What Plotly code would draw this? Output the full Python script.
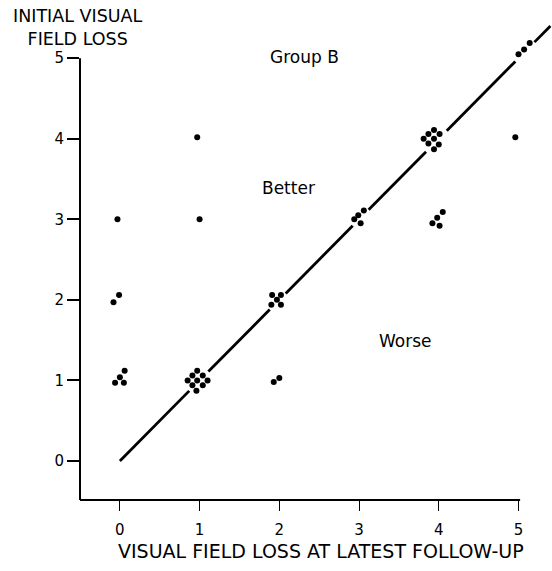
import plotly.graph_objects as go

# Patients: visual field loss at latest follow-up (x) vs initial (y), jittered as drawn
follow_up = [0.97, -0.03, 1.00,
             -0.01, -0.08,
             0.06, 0.00, -0.06, 0.05,
             0.97, 0.91, 1.04, 0.85, 0.97, 1.10, 0.91, 1.04, 0.96,
             1.91, 2.02, 1.97, 1.90, 2.02,
             1.93, 2.00,
             3.06, 2.99, 2.94, 3.02,
             3.94, 3.87, 4.01, 3.81, 3.94, 3.87, 4.00, 3.94,
             4.96,
             4.05, 3.98, 3.92, 4.01,
             5.00, 5.07, 5.14]
initial = [4.02, 3.00, 3.00,
           2.06, 1.97,
           1.12, 1.04, 0.97, 0.97,
           1.12, 1.06, 1.06, 1.00, 1.00, 1.00, 0.94, 0.94, 0.87,
           2.06, 2.06, 2.00, 1.94, 1.94,
           0.98, 1.03,
           3.11, 3.05, 3.00, 2.95,
           4.11, 4.06, 4.06, 4.00, 4.00, 3.94, 3.93, 3.87,
           4.02,
           3.09, 3.02, 2.95, 2.92,
           5.05, 5.11, 5.19]

# Identity line (no change), drawn in pieces broken around the clusters
diag_starts = [0.00, 1.11, 2.08, 3.12, 4.10, 5.20]
diag_ends = [0.87, 1.88, 2.92, 3.84, 4.96, 5.40]

tick_vals = [0, 1, 2, 3, 4, 5]
tick_text = ["0", "1", "2", "3", "4", "5"]

x_range = [-0.5, 5.42]
y_range = [-0.485, 5.45]
x_axis_end = 5.02
y_axis_end = 5.0

FONT = "DejaVu Sans"

diag_x, diag_y = [], []
for s, e in zip(diag_starts, diag_ends):
    diag_x += [s, e, None]
    diag_y += [s, e, None]

fig = go.Figure()
fig.add_trace(go.Scatter(x=diag_x, y=diag_y, mode="lines",
                         line=dict(color="black", width=2.8),
                         hoverinfo="skip", showlegend=False))
fig.add_trace(go.Scatter(x=follow_up, y=initial, mode="markers",
                         marker=dict(color="black", size=6),
                         cliponaxis=False, showlegend=False))

# axis lines (stop at the last tick, as in the original)
fig.add_shape(type="line", xref="x", yref="paper", x0=x_range[0], x1=x_axis_end,
              y0=0, y1=0, line=dict(color="black", width=2))
fig.add_shape(type="line", xref="paper", yref="y", x0=0, x1=0,
              y0=y_range[0], y1=y_axis_end, line=dict(color="black", width=2))

ann_font = dict(family=FONT, size=17, color="black")
fig.add_annotation(x=2.32, y=5.01, text="Group B", showarrow=False, font=ann_font)
fig.add_annotation(x=2.12, y=3.39, text="Better", showarrow=False, font=ann_font)
fig.add_annotation(x=3.58, y=1.49, text="Worse", showarrow=False, font=ann_font)

PH = 478.0  # plot-area height in px
PW = 472.0  # plot-area width in px
fig.add_annotation(xref="paper", yref="paper", x=(78 - 80) / PW, y=(500 - 27) / PH,
                   xanchor="center", yanchor="middle", showarrow=False,
                   text="INITIAL VISUAL<br>FIELD LOSS", align="center",
                   font=dict(family=FONT, size=17.5, color="black"))
fig.add_annotation(xref="paper", yref="paper", x=(321 - 80) / PW, y=-(551 - 500) / PH,
                   xanchor="center", yanchor="middle", showarrow=False,
                   text="VISUAL FIELD LOSS AT LATEST FOLLOW-UP",
                   font=dict(family=FONT, size=19, color="black"))

fig.update_xaxes(range=x_range, tickvals=tick_vals, ticktext=tick_text,
                 ticks="outside", ticklen=10, tickwidth=1, tickcolor="black",
                 ticklabelstandoff=6,
                 showline=False, showgrid=False, zeroline=False,
                 tickfont=dict(family=FONT, size=15, color="black"))
fig.update_yaxes(range=y_range, tickvals=tick_vals, ticktext=tick_text,
                 ticks="outside", ticklen=12, tickwidth=1.5, tickcolor="black",
                 showline=False, showgrid=False, zeroline=False,
                 tickfont=dict(family=FONT, size=15, color="black"))

fig.update_layout(width=552, height=571,
                  margin=dict(l=80, r=0, t=22, b=71),
                  paper_bgcolor="white", plot_bgcolor="white",
                  showlegend=False)

fig.write_html("out.html")
